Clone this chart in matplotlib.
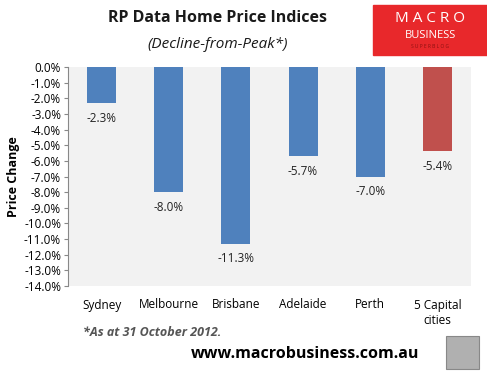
import numpy as np
import matplotlib
matplotlib.use("Agg")
import matplotlib.pyplot as plt
from matplotlib.patches import Rectangle

# Data
cities = ["Sydney", "Melbourne", "Brisbane", "Adelaide", "Perth", "5 Capital\ncities"]
decline = [-2.3, -8.0, -11.3, -5.7, -7.0, -5.4]
bar_colors = ["#4F81BD", "#4F81BD", "#4F81BD", "#4F81BD", "#4F81BD", "#C0504D"]
yticks = np.arange(0, -14.5, -1.0)

plt.rcParams['font.family'] = ['Open Sans', 'DejaVu Sans']

fig = plt.figure(figsize=(4.87, 3.74), dpi=100)
ax = fig.add_axes([68 / 487, 1 - 286 / 374, 403 / 487, 219 / 374])
ax.set_facecolor("#F2F2F2")

x = np.arange(len(cities))
ax.bar(x, decline, width=0.43, color=bar_colors, zorder=2)

for xi, v in zip(x, decline):
    ax.text(xi, v - 0.55, f"{v:.1f}%", ha="center", va="top", fontsize=8.5, color="#222222")

ax.set_xlim(-0.5, len(cities) - 0.5)
ax.set_ylim(-14, 0)
ax.set_yticks(yticks)
ax.set_yticklabels([f"{t:.1f}%" for t in yticks], fontsize=8.5)
ax.set_xticks(x)
ax.set_xticklabels(cities, fontsize=8.5, linespacing=1.25, va="top")
ax.tick_params(axis="x", length=0, pad=9)
ax.tick_params(axis="y", length=3, width=0.8, color="#888888", pad=2)

for side in ["top", "right", "bottom"]:
    ax.spines[side].set_visible(False)
ax.spines["left"].set_color("#888888")
ax.spines["left"].set_linewidth(0.8)

ax.set_ylabel("Price Change", fontsize=9, fontweight="bold", labelpad=3)

# titles
fig.text(218 / 487, 1 - 18 / 374, "RP Data Home Price Indices", ha="center", va="center",
         fontsize=11.5, fontweight="bold", color="#1a1a1a")
fig.text(218 / 487, 1 - 45 / 374, "(Decline-from-Peak*)", ha="center", va="center",
         fontsize=11, fontstyle="italic", color="#1a1a1a")

# logo box
fig.patches.append(Rectangle((373 / 487, 1 - 55 / 374), 114 / 487, 50 / 374,
                             transform=fig.transFigure, color="#E8282B", zorder=0))
fig.text(430 / 487, 1 - 19 / 374, "M A C R O", ha="center", va="center", fontsize=11, color="white")
fig.text(430 / 487, 1 - 36 / 374, "BUSINESS", ha="center", va="center", fontsize=8, color="white")
fig.text(430 / 487, 1 - 46 / 374, "S U P E R B L O G", ha="center", va="center", fontsize=3.5, color="#8a1010")

# footnotes
fig.text(83 / 487, 1 - 333 / 374, "*As at 31 October 2012.", ha="left", va="center",
         fontsize=9, fontweight="bold", fontstyle="italic", color="#555555")
fig.text(305 / 487, 1 - 354 / 374, "www.macrobusiness.com.au", ha="center", va="center",
         fontsize=11.5, fontweight="bold", color="black")

# wolf image placeholder
fig.patches.append(Rectangle((446 / 487, 1 - 369 / 374), 33 / 487, 33 / 374,
                             transform=fig.transFigure, facecolor="#B0B0B0",
                             edgecolor="#888888", linewidth=0.8, zorder=0))

fig.savefig("out.png", dpi=100)
